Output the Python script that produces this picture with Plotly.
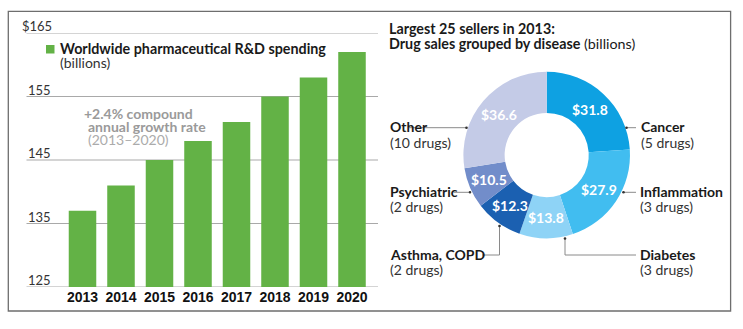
import numpy as np
import plotly.graph_objects as go

# --- Worldwide pharmaceutical R&D spending (billions USD) ---
years = ["2013", "2014", "2015", "2016", "2017", "2018", "2019", "2020"]
rd_spending = [137, 141, 145, 148, 151, 155, 158, 162]
y_ticks = [125, 135, 145, 155, 165]
y_tick_text = ["125", "135", "145", "155", "$165"]

# --- Largest 25 sellers in 2013, grouped by disease (billions USD) ---
diseases = ["Cancer", "Inflammation", "Diabetes", "Asthma, COPD", "Psychiatric", "Other"]
disease_sales = [31.8, 27.9, 13.8, 12.3, 10.5, 36.6]
drug_counts = [5, 3, 3, 2, 2, 10]

W, H = 743, 329
GREEN = "#63b246"
SLICE_COLORS = ["#0ea1e2", "#41bdf0", "#8ed3f6", "#1b60b1", "#728dca", "#c4cbe7"]
TEXT = "#1a1a1a"
FONT = "Lato"


def px(x):
    return x / W


def py(y):
    return 1 - y / H


fig = go.Figure()

# bar chart panel
bar_left, bar_right = 63.25, 371.25
y_bottom, y_top = 287.0, 33.0
fig.add_trace(go.Bar(
    x=years, y=rd_spending, marker=dict(color=GREEN, line=dict(width=0)),
    xaxis="x", yaxis="y", showlegend=False, hoverinfo="x+y",
))

# donut panel
pie_x0, pie_x1 = 463.4, 630.0
pie_y0, pie_y1 = 71.7, 238.3
hole = 0.505
fig.add_trace(go.Pie(
    labels=diseases, values=disease_sales, sort=False, direction="clockwise",
    rotation=0, hole=hole, textinfo="none", showlegend=False,
    marker=dict(colors=SLICE_COLORS, line=dict(width=0)),
    domain=dict(x=[px(pie_x0), px(pie_x1)], y=[py(pie_y1), py(pie_y0)]),
))

shapes = []
annotations = []

# outer frame
shapes.append(dict(type="rect", xref="paper", yref="paper",
                   x0=px(8.3), x1=px(730.6), y0=py(311), y1=py(11.4),
                   line=dict(color="#6e6e6e", width=1.3), layer="below"))

# horizontal grid lines spanning the bar panel
for v, t in zip(y_ticks, y_tick_text):
    shapes.append(dict(type="line", xref="paper", yref="y", x0=px(26.5), x1=px(378),
                       y0=v, y1=v, line=dict(color="#a9a9a9", width=1), layer="below"))
    annotations.append(dict(xref="paper", yref="y", x=px(20 if t.startswith("$") else 26),
                            y=v, yshift=7, text=t, showarrow=False, xanchor="left",
                            yanchor="middle", font=dict(family=FONT, size=13, color="#333333")))

# legend swatch and label
shapes.append(dict(type="rect", xref="paper", yref="paper", x0=px(46), x1=px(54.5),
                   y0=py(53.5), y1=py(45), fillcolor=GREEN, line=dict(width=0)))
annotations.append(dict(xref="paper", yref="paper", x=px(58), y=py(48.5),
                        text="<b>Worldwide pharmaceutical R&amp;D spending</b>", showarrow=False,
                        xanchor="left", yanchor="middle", font=dict(family=FONT, size=14.3, color=TEXT)))
annotations.append(dict(xref="paper", yref="paper", x=px(58), y=py(63),
                        text="(billions)", showarrow=False,
                        xanchor="left", yanchor="middle", font=dict(family=FONT, size=14, color="#333333")))

# growth-rate note
growth_lines = [("<b>+2.4% compound</b>", 82, 113, "#9a9a9a"),
                ("<b>annual growth rate</b>", 86, 126.5, "#9a9a9a"),
                ("(2013–2020)", 86, 139.5, "#ababab")]
for txt, x, y, c in growth_lines:
    annotations.append(dict(xref="paper", yref="paper", x=px(x), y=py(y), text=txt,
                            showarrow=False, xanchor="left", yanchor="middle",
                            font=dict(family=FONT, size=14, color=c)))

# donut panel heading
annotations.append(dict(xref="paper", yref="paper", x=px(387), y=py(28),
                        text="<b>Largest 25 sellers in 2013:</b>", showarrow=False,
                        xanchor="left", yanchor="middle", font=dict(family=FONT, size=14.3, color=TEXT)))
annotations.append(dict(xref="paper", yref="paper", x=px(387), y=py(43),
                        text="<b>Drug sales grouped by disease</b> (billions)", showarrow=False,
                        xanchor="left", yanchor="middle", font=dict(family=FONT, size=14.3, color=TEXT)))

# value labels placed at the middle of each ring segment
cx, cy = (pie_x0 + pie_x1) / 2, (pie_y0 + pie_y1) / 2
r_out = (pie_x1 - pie_x0) / 2
r_mid = r_out * (1 + hole) / 2
vals = np.array(disease_sales)
mid_frac = (np.cumsum(vals) - vals / 2) / vals.sum()
for v, f in zip(disease_sales, mid_frac):
    ang = 2 * np.pi * f
    lx = cx + r_mid * np.sin(ang)
    ly = cy - r_mid * np.cos(ang)
    annotations.append(dict(xref="paper", yref="paper", x=px(lx), y=py(ly),
                            text=f"<b>${v:.1f}</b>", showarrow=False, xanchor="center",
                            yanchor="middle", font=dict(family=FONT, size=14, color="white")))

# category labels around the donut
label_pos = {
    "Cancer": (639, 127, "left"),
    "Inflammation": (638, 191.5, "left"),
    "Diabetes": (638, 254.5, "left"),
    "Asthma, COPD": (388, 254.5, "left"),
    "Psychiatric": (388, 191.5, "left"),
    "Other": (388, 127, "left"),
}
for name, n in zip(diseases, drug_counts):
    x, y, anc = label_pos[name]
    annotations.append(dict(xref="paper", yref="paper", x=px(x), y=py(y), text=f"<b>{name}</b>",
                            showarrow=False, xanchor=anc, yanchor="middle",
                            font=dict(family=FONT, size=14, color=TEXT)))
    annotations.append(dict(xref="paper", yref="paper", x=px(x), y=py(y + 15),
                            text=f"({n} drugs)", showarrow=False, xanchor=anc, yanchor="middle",
                            font=dict(family=FONT, size=14, color="#333333")))

# leader lines with end dots
leaders = [
    [(626.5, 127.7), (636, 127.7)],
    [(623.5, 192.3), (636, 192.3)],
    [(565, 238.5), (565, 255), (636, 255)],
    [(499.5, 226), (499.5, 255), (482, 255)],
    [(470, 192.3), (453.5, 192.3)],
    [(466.5, 127.7), (408.5, 127.7)],
]
for pts in leaders:
    for (xa, ya), (xb, yb) in zip(pts[:-1], pts[1:]):
        shapes.append(dict(type="line", xref="paper", yref="paper", x0=px(xa), y0=py(ya),
                           x1=px(xb), y1=py(yb), line=dict(color="#8a8a8a", width=1)))
    dx, dy = pts[0]
    shapes.append(dict(type="circle", xref="paper", yref="paper", x0=px(dx - 1.3), x1=px(dx + 1.3),
                       y0=py(dy + 1.3), y1=py(dy - 1.3), fillcolor="#333333", line=dict(width=0)))

fig.update_layout(
    width=W, height=H, margin=dict(l=0, r=0, t=0, b=0),
    paper_bgcolor="white", plot_bgcolor="rgba(0,0,0,0)",
    bargap=0.285,
    xaxis=dict(domain=[px(bar_left), px(bar_right)], range=[-0.5, 7.5], type="category",
               showgrid=False, zeroline=False, showline=False, ticks="",
               tickfont=dict(family="Liberation Sans", size=14, color="#111111"),
               ticklabelstandoff=0, anchor="y"),
    yaxis=dict(domain=[py(y_bottom), py(y_top)], range=[125, 165], showgrid=False,
               zeroline=False, showline=False, showticklabels=False, ticks=""),
    shapes=shapes, annotations=annotations,
)
fig.update_xaxes(tickprefix="<b>", ticksuffix="</b>")

fig.write_html("out.html")
